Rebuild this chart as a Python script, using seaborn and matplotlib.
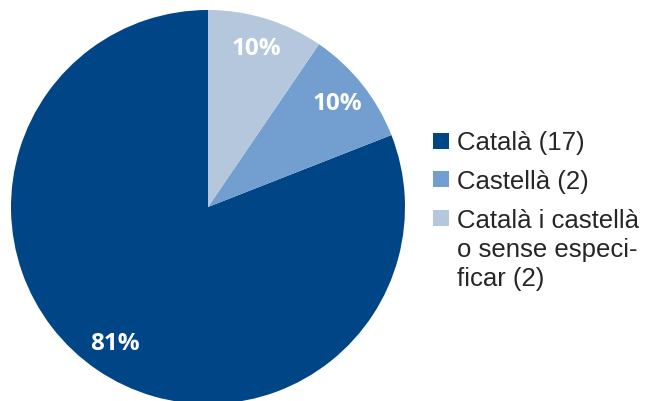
import matplotlib
matplotlib.use("Agg")
import matplotlib.pyplot as plt
from matplotlib.lines import Line2D
import seaborn as sns

categories = ["Català (17)", "Castellà (2)", "Català i castellà\no sense especi-\nficar (2)"]
counts = [17, 2, 2]
colors = ["#004586", "#729fcf", "#b4c7dc"]

sns.set_theme(style="white")
plt.rcParams["font.family"] = ["Liberation Sans", "DejaVu Sans"]
palette = sns.color_palette(colors)

fig = plt.figure(figsize=(6.47, 4.01), dpi=100)
ax = fig.add_axes([11 / 647, -3 / 401, 394 / 647, 394 / 401])

wedges, _, autotexts = ax.pie(
    counts,
    colors=palette,
    startangle=90,
    counterclock=True,
    autopct=lambda p: f"{p:.0f}%",
    pctdistance=0.84,
    radius=1.0,
    wedgeprops=dict(linewidth=0),
    textprops=dict(color="white", fontsize=17.5, fontweight="bold",
                   family=["Open Sans", "DejaVu Sans"]),
)
ax.set_xlim(-1, 1)
ax.set_ylim(-1, 1)
ax.set_aspect("equal")
ax.axis("off")

handles = [Line2D([0], [0], marker="s", linestyle="none", markersize=11.5,
                  markerfacecolor=c, markeredgewidth=0) for c in palette]
leg = fig.legend(handles, categories, loc="upper left",
                 bbox_to_anchor=(430 / 647, 1 - 131 / 401),
                 frameon=False, fontsize=18.5, handlelength=0.85, handleheight=0.85,
                 handletextpad=0.2, labelspacing=0.58, borderpad=0,
                 borderaxespad=0)
for t in leg.get_texts():
    t.set_linespacing(1.27)
# keep each marker level with the first line of its label
for column in leg._legend_handle_box.get_children():
    for row in column.get_children():
        row.align = "top"

fig.savefig("out.png", dpi=100)
